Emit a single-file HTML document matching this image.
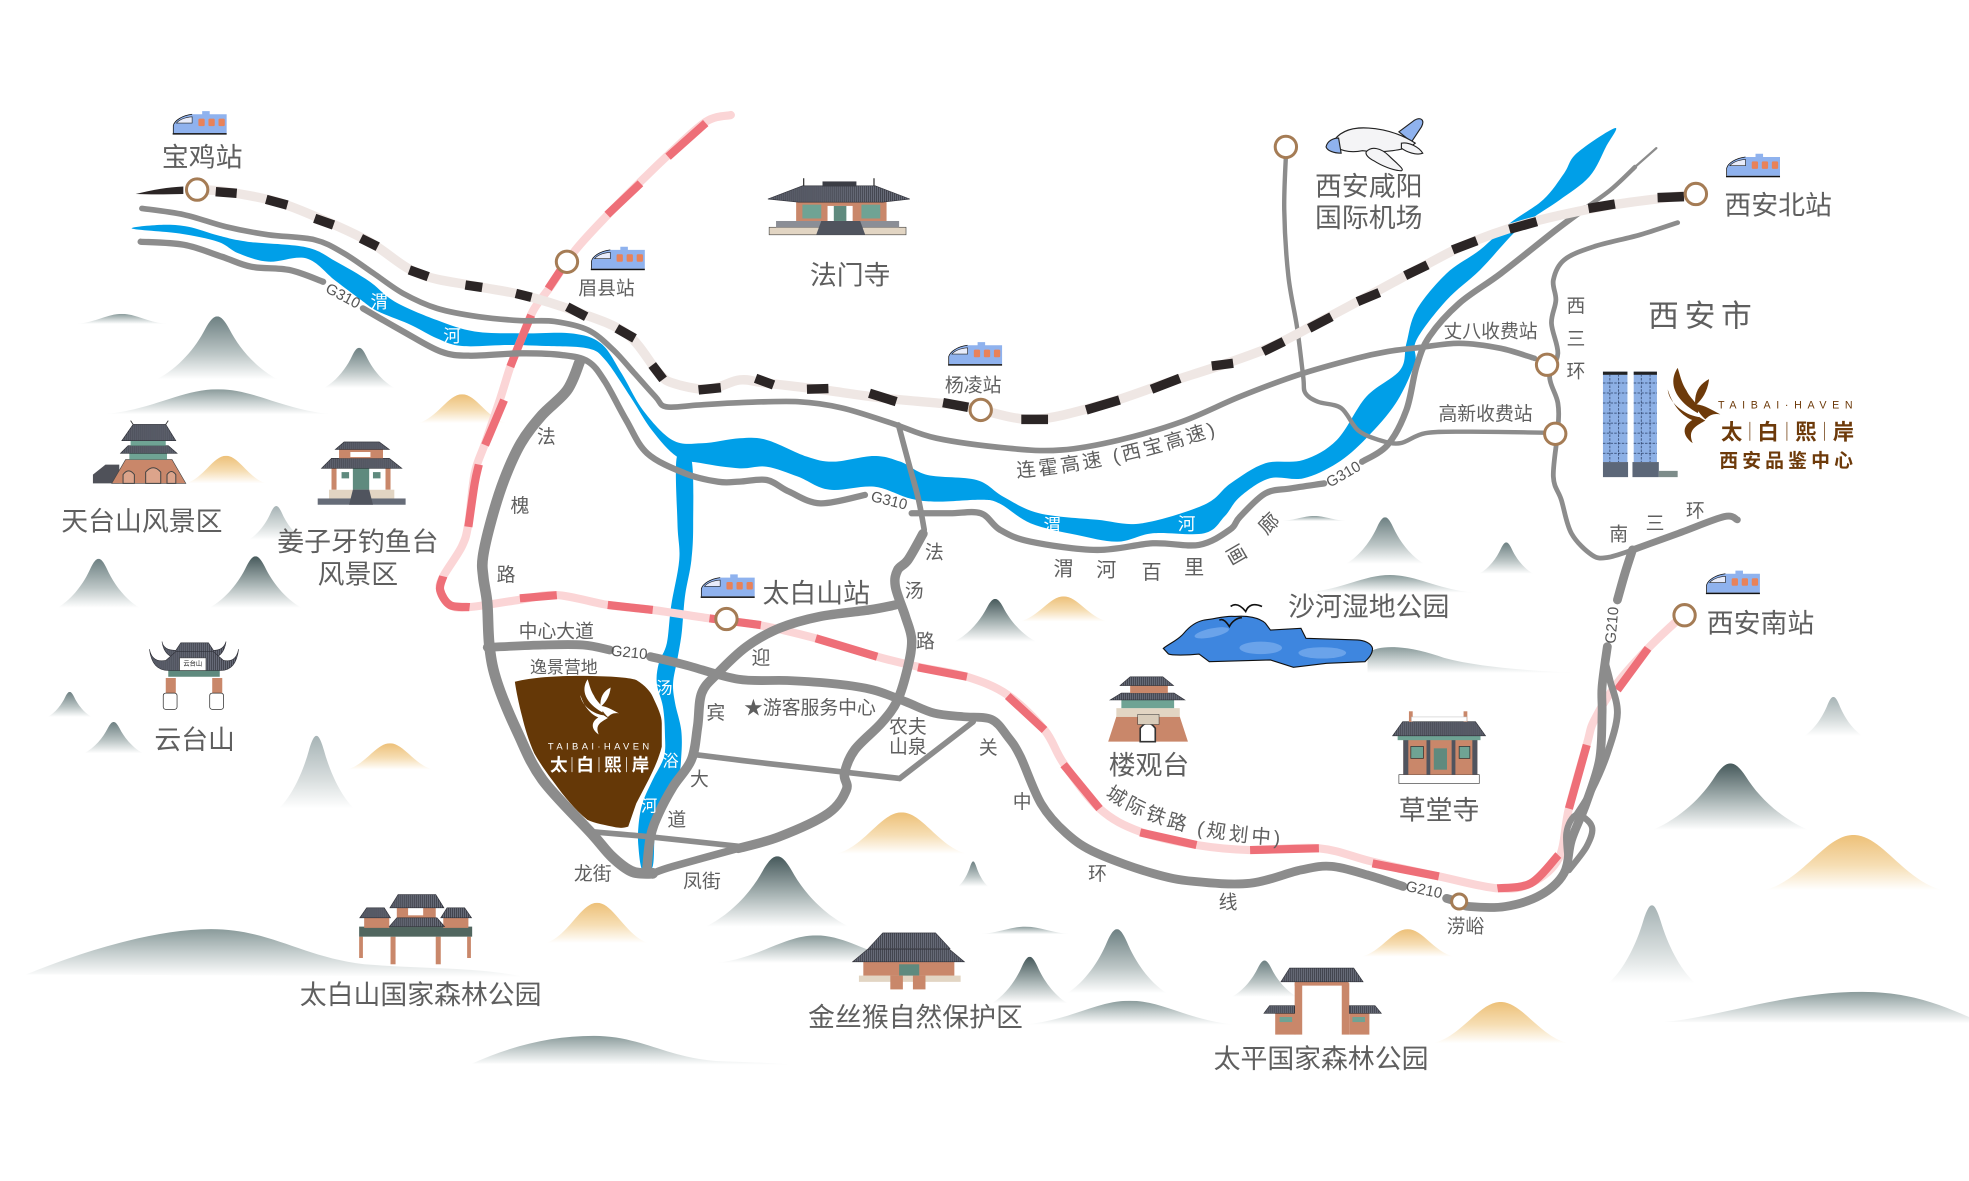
<!DOCTYPE html>
<html lang="zh">
<head>
<meta charset="utf-8">
<title>太白熙岸 区位图</title>
<style>
html,body{margin:0;padding:0;background:#fff}
svg{display:block}
text{font-family:"Liberation Sans","Noto Sans CJK SC",sans-serif;fill:#5f5f5f;text-anchor:middle;dominant-baseline:central}
.t21{font-size:21.4px}
.t15{font-size:15px}
.w{fill:#fff;font-size:14px}
.g{font-family:"Liberation Sans",sans-serif;font-size:12px;fill:#555}
.br{fill:#6d3a0a;font-weight:700}
.road{fill:none;stroke:#8c8c8c;stroke-linejoin:round;stroke-linecap:round}
.rf{fill:url(#hatch);stroke:#2f3038;stroke-width:.5}
.wl{fill:#c9876a}
.tl{fill:#6fa394}
.bg{fill:#e2d5c3}
.node{fill:#fff;stroke:#a57c55;stroke-width:2.4}
</style>
</head>
<body>
<svg xmlns="http://www.w3.org/2000/svg" width="1969" height="1181" viewBox="0 0 1568 940.6" preserveAspectRatio="none">
<defs>
<pattern id="hatch" width="1.6" height="3" patternUnits="userSpaceOnUse"><rect width="1.6" height="3" fill="#666a77"/><rect width=".5" height="3" fill="#33353d"/></pattern>
<linearGradient id="gD" x1="0" y1="0" x2="0" y2="1"><stop offset="0" stop-color="#46595b"/><stop offset=".55" stop-color="#a9b5b5"/><stop offset="1" stop-color="#fff"/></linearGradient>
<linearGradient id="gM" x1="0" y1="0" x2="0" y2="1"><stop offset="0" stop-color="#6d8082"/><stop offset=".6" stop-color="#bcc6c6"/><stop offset="1" stop-color="#fff"/></linearGradient>
<linearGradient id="gL" x1="0" y1="0" x2="0" y2="1"><stop offset="0" stop-color="#a6b3b5"/><stop offset=".6" stop-color="#d8dede"/><stop offset="1" stop-color="#fff"/></linearGradient>
<linearGradient id="gH" x1="0" y1="0" x2="0" y2="1"><stop offset="0" stop-color="#8a9b9b"/><stop offset=".55" stop-color="#ccd4d4"/><stop offset="1" stop-color="#fff"/></linearGradient>
<linearGradient id="gG" x1="0" y1="0" x2="0" y2="1"><stop offset="0" stop-color="#edc078"/><stop offset=".55" stop-color="#f6deb4"/><stop offset="1" stop-color="#fff"/></linearGradient>
<symbol id="pk" viewBox="0 0 100 100" preserveAspectRatio="none"><path d="M0 100C18 82 32 50 40 20C44 6 47 0 50 0C53 0 56 6 60 20C68 50 82 82 100 100Z"/></symbol>
<symbol id="hl" viewBox="0 0 100 100" preserveAspectRatio="none"><path d="M0 100C22 82 34 0 50 0C66 0 78 82 100 100Z"/></symbol>
<symbol id="tr" viewBox="0 0 44 21">
<path d="M1 19V13C2 9 8 5 16 4H24V1.500H30V4H43.500V19Z" fill="#8fb2ee"/>
<path d="M3.500 11C6 8 10 6.500 16 6V11Z" fill="#e8ecfb" stroke="#222" stroke-width=".5"/>
<rect x="21" y="7.500" width="5" height="6" rx="1" fill="#e8825a"/><rect x="29" y="7.500" width="5" height="6" rx="1" fill="#e8825a"/><rect x="37" y="7.500" width="5" height="6" rx="1" fill="#e8825a"/>
<rect x="0.500" y="19" width="43" height="1.200" fill="#111"/>
<path d="M1 19V13C2 9 8 5 16 4" fill="none" stroke="#111" stroke-width=".6"/>
</symbol>
<symbol id="bd" viewBox="0 0 42 60">
<path d="M8 0C0 12 6 26 24 36C27 30 18 25 15 18C11 12 10 6 8 0Z"/>
<path d="M33 9C25 13 21 20 22 30C28 25 32 18 33 9Z"/>
<path d="M0 17C1 28 13 37 24 39C30 41 28 45 26 43C15 42 5 33 0 17Z"/>
<path d="M23 29C30 30 34 33 42 37C36 36 33 38 30 41C26 37 23 34 23 29Z"/>
<path d="M25 39C13 43 9 52 20 60C16 50 21 47 30 42Z"/>
</symbol>
</defs>
<rect width="1568" height="940.6" fill="#fff"/>

<!-- mountains -->
<g>
<use href="#hl" x="61" y="250" width="72" height="8" fill="url(#gH)"/>
<use href="#pk" x="125" y="252" width="96" height="50" fill="url(#gM)"/>
<use href="#pk" x="258" y="277" width="56" height="32" fill="url(#gM)"/>
<use href="#hl" x="82" y="310" width="183" height="20" fill="url(#gH)"/>
<use href="#hl" x="333" y="314" width="70" height="23" fill="url(#gG)"/>
<use href="#hl" x="148" y="363" width="64" height="22" fill="url(#gG)"/>
<use href="#pk" x="46" y="445" width="65" height="39" fill="url(#gM)"/>
<use href="#pk" x="167" y="443" width="73" height="41" fill="url(#gD)"/>
<use href="#pk" x="198" y="403" width="44" height="27" fill="url(#gL)"/>
<use href="#pk" x="38" y="551" width="35" height="20" fill="url(#gM)"/>
<use href="#pk" x="67" y="575" width="47" height="25" fill="url(#gM)"/>
<use href="#pk" x="222" y="586" width="60" height="58" fill="url(#gL)"/>
<use href="#hl" x="276" y="592" width="69" height="21" fill="url(#gG)"/>
<use href="#hl" x="666" y="647" width="104" height="33" fill="url(#gG)"/>
<use href="#pk" x="562" y="682" width="114" height="56" fill="url(#gD)"/>
<use href="#pk" x="763" y="686" width="24" height="20" fill="url(#gM)"/>
<use href="#hl" x="435" y="719" width="81" height="32" fill="url(#gG)"/>
<path d="M21 776C60 760 120 740 168 740C215 740 240 762 290 768C340 772 380 770 417 778Z" fill="url(#gH)"/>
<use href="#hl" x="570" y="745" width="160" height="22" fill="url(#gH)"/>
<path d="M376 847C410 832 440 825 473 825C510 825 530 842 570 845C590 846 610 846 631 848Z" fill="url(#gH)"/>
<use href="#pk" x="850" y="740" width="79" height="51" fill="url(#gM)"/>
<use href="#pk" x="790" y="762" width="60" height="37" fill="url(#gD)"/>
<use href="#pk" x="981" y="765" width="52" height="29" fill="url(#gM)"/>
<use href="#hl" x="1084" y="740" width="74" height="22" fill="url(#gG)"/>
<use href="#hl" x="1141" y="798" width="108" height="33" fill="url(#gG)"/>
<use href="#hl" x="816" y="797" width="167" height="19" fill="url(#gH)"/>
<use href="#hl" x="780" y="738" width="73" height="6" fill="url(#gH)"/>
<use href="#pk" x="1281" y="721" width="69" height="62" fill="url(#gL)"/>
<path d="M1325 814C1370 810 1420 790 1483 790C1520 790 1545 800 1568 810V815Z" fill="url(#gH)"/>
<use href="#pk" x="1072" y="412" width="62" height="37" fill="url(#gM)"/>
<use href="#pk" x="1178" y="432" width="43" height="25" fill="url(#gM)"/>
<use href="#hl" x="1020" y="411" width="53" height="4" fill="url(#gH)"/>
<use href="#hl" x="1040" y="458" width="134" height="14" fill="url(#gH)"/>
<use href="#hl" x="812" y="475" width="70" height="20" fill="url(#gG)"/>
<use href="#pk" x="760" y="477" width="65" height="34" fill="url(#gD)"/>
<path d="M1089 520C1100 512 1125 515 1150 524C1180 532 1220 534 1255 536H1089Z" fill="url(#gH)"/>
<use href="#pk" x="1316" y="608" width="124" height="53" fill="url(#gD)"/>
<use href="#hl" x="1405" y="665" width="142" height="44" fill="url(#gG)"/>
<use href="#pk" x="1437" y="555" width="46" height="31" fill="url(#gL)"/>
</g>

<!-- rivers -->
<polygon class="sm" fill="#009fe8" points="105,182 130,179 150,180.600 173.500,187.500 197,192.500 244,197 267,208 294,224 314,240 348,255 378,264 415,265.500 455,265.500 478.500,273.500 495,297.400 512,326.600 535.500,350.500 559,353 589,349 610.600,350.400 642.600,363.700 664,367.700 696,363.200 717,367.700 738.600,378.300 777.700,382.300 799,395.600 827.500,408.800 873.700,414 909,416.800 959,402 980,385 1007.600,369 1037.800,366.400 1064.600,350.400 1088,316 1115,294.700 1120,273.400 1128,247 1152,217.700 1178.600,199 1202,178 1229,159 1245.600,138 1255.700,122 1286,102 1279,116.800 1265.700,140.700 1242,159.300 1222,172.600 1205.400,185.800 1178.600,215 1152,239 1128,270.800 1126.600,289.400 1111.500,321.200 1088,349 1064.600,369 1037.800,381 1011,381 987.500,395.600 975,411.500 959,424.700 918,424.700 890,431.400 857.300,426 820.800,416.800 796,401 781.300,398 745.700,399.500 724.400,396.900 696,387.600 660.400,390 635.500,379.600 610.600,371.700 589,373 559,369 539,363.700 519,342.500 502,316 482,286.700 468,277.500 435,275.600 405,274.800 368,275.600 348,269.500 327.700,259 301,248 287,238.500 267,223.500 244,205.800 213.700,208.400 190,201.800 173.500,192.500 143,186"/>
<polygon class="sm" fill="#009fe8" points="539,364 550.600,366 552,417 550.600,446 545.800,472.600 544,491 542.500,507 539.300,525.700 536,544 537.600,560 542.500,581.600 542.500,602.600 539.300,621 523,655.700 519.800,690 511.600,693 508.400,674.300 508.400,658.400 511.600,639.800 519.800,621 528.800,602.600 529.500,584 527.900,562.800 523,544 524.600,528.300 531,512.400 534.400,483 540.900,446 539.500,417"/>

<!-- intercity rail -->
<g fill="none" stroke-linejoin="round">
<polyline stroke="#fbd5d6" stroke-width="6.500" stroke-linecap="round" points="582,91.600 562,97 532,123.500 508.700,146 485,170 458.400,199 438.300,228.300 424.800,247 414.800,270.800 406.400,292 398,318.600 386.300,353 378,377 373,417 367.900,435 353,459 350.500,470 358.400,481.900 374,483.500 412.500,477.900 443.400,473.900 484,481.800 519.800,485.800 565,492.500 604.300,497.800 649.700,508.400 698.500,523 731,531 770,539 802.500,553.500 831.800,581.400 847,608 875.600,644 908,662.400 952.800,673 995.500,677 1050.300,675.600 1093,686.300 1145.800,698 1192.500,707.500 1219,703.500 1241.300,683.600 1249.400,643.800 1263.600,593 1269.700,573.400 1288,544 1312.400,516.400 1334.700,495"/>
<g stroke="#ee6f78" stroke-width="6.500">
<polyline points="562,98 532,124.800"/>
<polyline points="510,146 483.600,171"/>
<polyline points="446.600,215 436.600,230"/>
<polyline points="423,251 414.800,270.800 406.400,292"/>
<polyline points="401.400,318.600 386.300,354.500"/>
<polyline points="381.300,370 378,385 373,419.600"/>
<polyline points="353,459 350.500,470 358.400,481.900 374,483.500"/>
<polyline points="414,476.500 443.400,474"/>
<polyline points="484,481.800 519.800,485.800"/>
<polyline points="565,492.500 605.900,497.800"/>
<polyline points="649.700,508.400 698.500,523"/>
<polyline points="731,531.500 770,539"/>
<polyline points="802.500,554.300 831.800,581.400"/>
<polyline points="847,609 875.600,644"/>
<polyline points="908,663 952.800,673"/>
<polyline points="995.500,677 1050.300,675.600"/>
<polyline points="1093,687.600 1145.800,698"/>
<polyline points="1192.500,707.500 1219,703.500 1241,681"/>
<polyline points="1249.400,644 1263.600,593.300"/>
<polyline points="1288,549.500 1312.400,516.400"/>
</g>
</g>

<!-- roads -->
<g>
<polyline class="road" stroke-width="4.500" points="113,166 146.600,171 180,180.600 213.700,187 250.600,191 274,201.800 297.500,217.700 321,233.700 348,245.600 381,252.200 415,255.400 441.600,256 468.400,262.900 488.500,278.800 505.300,297.400 522,316 530.500,324 555.600,322.600 589,320.700 635.500,319.900 671,325 710,337 745.700,349 802.600,357 845,358.400 891.500,350.400 941.200,335.800 987.400,315.900 1033.700,298.600 1080,285.400 1105,280 1131.600,276.600 1162,273.400 1195,277.400 1222,285.400"/>
<polyline class="road" stroke-width="5" points="112,192.500 146.600,195 176.800,204.500 200,212.400 230.400,215 257.300,224.400"/>
<polyline class="road" stroke-width="5" points="289,245.600 321,264 351,280 374.600,283.300 415,281.400 448,282.800 468.400,288 481.800,304 498.600,334.500 515.400,361 545.500,377 572,383.700 589,383.600 610.600,382.300 628.400,391.600 653.300,400.900 688.800,394.200"/>
<polyline class="road" stroke-width="5" points="726,408.800 756.400,408.800 781,408.800 796.400,422 820.800,431.400 873.600,438 918,432.700 954.800,434 979.200,422 987.500,411.500 1007.600,393 1027.700,389 1054.500,385"/>
<polyline class="road" stroke-width="5" points="1084.700,367.700 1105,354.400 1120,326.500 1128,292 1138.300,268 1162,241.600 1195.300,217.700 1239,183.200 1262,166"/>
<polyline class="road" stroke-width="3.500" points="1262,166 1282.500,151.300 1302,133"/>
<polyline class="road" stroke-width="1.800" points="1302,133 1319,118"/>
<polyline class="road" stroke-width="8.500" points="461.700,288 451.700,310.700 431.600,330.600 414.800,353 401.400,382.300 391.300,414 384.600,443.400 384.900,460 388,480.500 389.800,515 396,544 412.500,584 432,621 471,663.700 487.300,682.300 503.500,694.200 519.800,695.600"/>
<polyline class="road" stroke-width="6" points="519.800,695.600 536,690 588,675.700"/>
<polyline class="road" stroke-width="7.500" points="588,675.700 620.500,666.400 659.500,647.800 674,629 672.500,616 680.600,597.300 701.800,576 714.800,557.500 723,531 726,509.700 721,491 713,467 714.800,454 723,446 735,425"/>
<polyline class="road" stroke-width="4.500" points="715.500,338.500 724.400,371.700 731.500,398 736,422"/>
<polyline class="road" stroke-width="7.500" points="713,481.800 692,485.800 653,491 620.500,500.400 594.500,515 571.700,536 558.800,552 555.500,578.800 550.600,605 536,626.500 524.600,647.800 518,666.400 515,693"/>
<polyline class="road" stroke-width="7" points="388,515.600 432,513.700 464.500,513.700 485.600,517.700"/>
<polyline class="road" stroke-width="7" points="518,523 545.800,529.600 588,541 627,542 666,544.800 695.300,549.500 721,558.800 744,568 767,570.800 789.500,573 802.500,586.700 812.600,602.600 829,640 849.200,663.700 873.600,679.600 918,695.600 950.800,702 995.500,703.500 1036,692.900 1060.500,690 1089,696.900 1117.400,706"/>
<polyline class="road" stroke-width="7" points="1152,715.500 1162,718.700 1170,722 1198.600,722 1227,712.800 1245.400,695.600 1251.400,669 1263,640 1273.800,605 1275.800,568 1275.800,546.900 1280,515"/>
<polyline class="road" stroke-width="5" points="1249.400,693 1263.600,674 1267.700,658.400 1255.500,649 1247.400,663.700 1249.400,693"/>
<polyline class="road" stroke-width="5.500" points="1255.500,649 1267.700,629 1280,600 1288,568 1282,541.600 1277.800,525.600"/>
<polyline class="road" stroke-width="7" points="1288,477.800 1294,456.600 1300,438"/>
<polyline class="road" stroke-width="4.500" points="555.500,601.300 610.700,608 669.300,614.600 716.400,620"/>
<polyline class="road" stroke-width="4.500" points="716.400,620 775,574.800"/>
<polyline class="road" stroke-width="4.500" points="471,662.400 516.500,666.400 591,674.300"/>
<polyline class="road" stroke-width="3.800" points="1336,177.300 1306,187 1269,196.500 1245.600,207 1237,223 1239,239 1235.500,257.500 1240.600,281.400 1234,300 1240.600,321 1240.600,342.500 1237,379.600 1243.300,398 1251.400,424.800 1267.700,442 1280,444 1300,438"/>
<polyline class="road" stroke-width="5.500" points="1300,438 1336.800,424.700 1373,411.500 1383.500,414"/>
<polyline class="road" stroke-width="3.500" points="1024.400,116.800 1022.700,167 1026,220 1032.800,260 1037.800,300 1039.500,313 1049.500,320 1068,325 1081.300,342.500 1098,350.400 1115,353 1135,345 1168.500,343.800 1229,344.600"/>
</g>

<!-- west-east rail -->
<polyline fill="none" stroke="#efe7e4" stroke-width="7.500" stroke-linejoin="round" points="157,151 180,152.700 220,160.600 257,175 294,192.500 332.700,217.700 378,227.800 416.500,235 458.400,248 498.600,265.500 523.700,296 535.500,305 564,310 589,302.600 609,305 651.500,310 703,317 762,322.500 781,326.500 824,334 877,322.500 929,305 973,290.700 1014,275.500 1051.500,256 1089,236 1128,215 1167,195 1212,179 1276,164.600 1331,157 1350,154.500"/>
<path d="M108 154.500C122 151 134 149 146 148.500V154.500C134 154.800 120 155 108 154.500Z" fill="#2b2525"/>
<path fill="none" stroke="#2b2525" stroke-width="7.500" d="M171.800 152.700L188.500 154M212 158.800L228.800 163.300M250.600 173.900L265.600 179.200M287.400 189.800L300.800 196.500M326 215L341 220.400M370.600 227L384 228.900M410.800 233.700L423.200 236.800M451.700 244.300L466.800 252.200M491.200 261.500L505.300 269.500M519.400 290.700L528.100 302.100M556.300 310.600L574 308.800M601.700 301.300L616 306.600M642.600 310L659.700 309.500M692.400 313.200L713.700 319.900M751 320.700L771 324.400M813.300 334L834.600 334M865 326.500L891.500 318.600M917 310L939.500 301.300M965 291.500L982 289.300M1006 280L1022.300 272M1042.600 261.500L1060.300 252.200M1081 240.200L1098.400 233M1119 219.500L1136.800 211M1156.800 199L1176 191.700M1202 182.600L1223.800 176.500M1265 166L1286 162.500M1320 157.400L1341 156.600"/>

<!-- parcel -->
<path d="M410 543C425 539 450 538 471 538.400C490 538.700 503 540 506.700 541.600C514 546 518 551 519.800 554.900C524 564 527 570 527 576L527 594.700C524 606 520 614 516.500 621L506.700 639.800L500.300 658.400C497 659.500 494 659.500 490.500 659C482 657 474 656 467.800 653C458 645 449 634 441.800 624C435 615 430 608 425.500 600C421 590 418 580 415.800 570.800C413 560 411 550 410 543Z" fill="#653807"/>
<use href="#bd" x="462" y="541" width="31" height="44" fill="#fff"/>
<g transform="translate(0,1.300)">
<text x="478" y="593" style="fill:#fff;font-size:7.500px;letter-spacing:2.700px">TAIBAI·HAVEN</text>
<text x="445" y="608" style="fill:#fff;font-weight:700;font-size:14px">太</text>
<text x="466" y="608" style="fill:#fff;font-weight:700;font-size:14px">白</text>
<text x="488" y="608" style="fill:#fff;font-weight:700;font-size:14px">熙</text>
<text x="510" y="608" style="fill:#fff;font-weight:700;font-size:14px">岸</text>
</g>
<path d="M455.500 603V615M477 603V615M499 603V615" stroke="#fff" stroke-width=".6"/>

<!-- nodes -->
<ellipse class="node" cx="157" cy="151" rx="8.500" ry="8.500"/>
<ellipse class="node" cx="451.500" cy="208.500" rx="8.500" ry="8.500"/>
<ellipse class="node" cx="781" cy="326.500" rx="8.500" ry="8.500"/>
<ellipse class="node" cx="1024" cy="117" rx="8.500" ry="8.500"/>
<ellipse class="node" cx="1350.500" cy="154.500" rx="8.500" ry="8.500"/>
<ellipse class="node" cx="1232" cy="290.500" rx="8.500" ry="8.500"/>
<ellipse class="node" cx="1238.500" cy="345.500" rx="8.500" ry="8.500"/>
<ellipse class="node" cx="1341.500" cy="490" rx="8.500" ry="8.500"/>
<ellipse class="node" cx="578.500" cy="493" rx="8.500" ry="8.500"/>
<ellipse class="node" cx="1162" cy="718" rx="6" ry="6" stroke-width="2"/>

<!-- trains -->
<use href="#tr" x="137" y="87" width="44" height="21"/>
<use href="#tr" x="470" y="195" width="44" height="21"/>
<use href="#tr" x="754.500" y="271" width="44" height="21"/>
<use href="#tr" x="557.500" y="456" width="44" height="21"/>
<use href="#tr" x="1374" y="121" width="44" height="21"/>
<use href="#tr" x="1358" y="453" width="44" height="21"/>

<!-- plane -->
<g stroke="#222" stroke-width=".9">
<path d="M1114 105L1126 96C1131 93 1135 95 1132 101L1124 113Z" fill="#8fb2ee"/>
<path d="M1061 114C1066 105 1076 101 1090 102C1105 103 1118 108 1127 114C1120 120 1100 122 1085 120C1075 122 1065 120 1061 114Z" fill="#f4f4f6"/>
<path d="M1056 117C1057 112 1062 110 1066 110L1068 122C1062 122 1057 120 1056 117Z" fill="#8fb2ee"/>
<path d="M1088 121C1092 116 1100 118 1106 124C1112 130 1119 135 1116 136C1110 136 1100 132 1094 128C1090 126 1087 123 1088 121Z" fill="#f4f4f6"/>
<path d="M1116 114C1122 113 1130 117 1133 122C1128 124 1120 121 1116 118Z" fill="#f4f4f6"/>
</g>

<!-- lake -->
<path d="M926.400 516.400C932 512 938 510 942.700 504.400C948 498 953 495 959 493.800C968 493 976 490 983.300 491C993 490 1003 492 1007.700 496.400L1011.700 501.800L1036 500.400L1040 508.400L1080.800 509.700C1086 510 1092 512 1093 516.400C1093 521 1090 524 1087 527L1056.400 528.300L1030 531.500L1011.700 525.600L963 527L954.900 520.900C945 522 933 522 930.500 520.900Z" fill="#3e86df" stroke="#111" stroke-width=".9"/>
<g fill="#6aa3ea"><ellipse cx="965" cy="504" rx="14" ry="3.500" transform="rotate(-12 965 504)"/><ellipse cx="1004" cy="516" rx="17" ry="5"/><ellipse cx="1053" cy="520" rx="19" ry="4.500"/></g>
<g fill="none" stroke="#111" stroke-width="1.300"><path d="M980 483C984 480 988 482 992 487C994 482 998 480 1005 483"/><path d="M971 494C974 492 977 496 979 499C981 495 985 492 989 492"/></g>

<!-- towers -->
<g>
<rect x="1276.500" y="296" width="19.500" height="72" fill="#8db0e5"/>
<rect x="1301" y="296" width="18.500" height="72" fill="#8db0e5"/>
<rect x="1276.500" y="296" width="19.500" height="2.500" fill="#222"/>
<rect x="1301" y="296" width="18.500" height="2.500" fill="#222"/>
<path d="M1276.500 305H1296M1276.500 313H1296M1276.500 321H1296M1276.500 329H1296M1276.500 337H1296M1276.500 345H1296M1276.500 353H1296M1276.500 361H1296M1301 305H1319.500M1301 313H1319.500M1301 321H1319.500M1301 329H1319.500M1301 337H1319.500M1301 345H1319.500M1301 353H1319.500M1301 361H1319.500M1282 298V368M1289 298V368M1307 298V368M1314 298V368" stroke="#2c3f66" stroke-width=".6" stroke-dasharray="2 1"/>
<rect x="1276.500" y="368" width="20" height="12" fill="#5c6778"/>
<rect x="1300" y="368" width="21" height="12" fill="#5c6778"/>
<path d="M1321 375H1336V380H1321Z" fill="#7d8c8a"/>
</g>
<use href="#bd" x="1328" y="293" width="42" height="60" fill="#6d3a0a"/>
<g transform="translate(0,.8)">
<text x="1424" y="322" style="fill:#6d3a0a;font-size:8.500px;letter-spacing:4.500px">TAIBAI·HAVEN</text>
<text class="br" x="1379" y="343.500" style="font-size:17px">太</text>
<text class="br" x="1408" y="343.500" style="font-size:17px">白</text>
<text class="br" x="1438" y="343.500" style="font-size:17px">熙</text>
<text class="br" x="1468" y="343.500" style="font-size:17px">岸</text>
<text class="br" x="1424" y="366" style="font-size:15px;letter-spacing:3.300px">西安品鉴中心</text>
</g>
<path d="M1393.500 336V351M1423 336V351M1453 336V351" stroke="#6d3a0a" stroke-width=".6"/>

<!-- 法门寺 -->
<g>
<rect x="612.500" y="181" width="109" height="6" class="bg" stroke="#444" stroke-width=".5"/>
<rect x="618" y="176" width="98" height="5" fill="#8b8e96"/>
<polygon points="650,187 654,176 685,176 689,187" fill="#50545e"/>
<rect x="634" y="160" width="72" height="16" class="wl"/>
<rect x="639" y="163" width="15" height="11" class="tl"/><rect x="686" y="163" width="15" height="11" class="tl"/><rect x="659" y="164" width="20" height="12" fill="#fff"/><rect x="664" y="164" width="10" height="12" fill="#5f8a7e"/>
<polygon class="rf" points="611.500,158.500 639,148 697,148 724.500,158.500 703,161 636,161"/>
<rect x="655" y="144.500" width="27" height="4" fill="#3b3d45"/>
<path d="M640 142V148M696 142V148" stroke="#333" stroke-width="1"/>
</g>

<!-- 天台山 -->
<g>
<polygon points="74,385 74,378 84,370 95,370 95,385" fill="#4f5159"/>
<polygon class="wl" points="89,385 100,366 137,366 148,385" stroke="#444" stroke-width=".5"/>
<path d="M98 385V378Q102.500 372 107 378V385ZM116 385V376Q122 369 128 376V385ZM133 385V378Q136.500 373 140 378V385Z" fill="#dca48b" stroke="#444" stroke-width=".8"/>
<rect x="103" y="361" width="30" height="5" class="tl"/>
<polygon class="rf" points="96,361 102,355 134,355 141,361"/>
<rect x="104" y="349" width="28" height="6" class="tl"/>
<polygon class="rf" points="97,351 106,338 132,338 140,351"/>
<path d="M106 338L104 335M132 338L134 335" stroke="#333" stroke-width=".7"/>
</g>

<!-- 姜子牙 -->
<g>
<rect x="262" y="390" width="52" height="7" class="bg"/>
<rect x="253" y="397" width="70" height="5" fill="#666c78"/>
<rect x="264" y="373" width="47" height="17" fill="#fff"/>
<rect x="264" y="373" width="4" height="17" class="wl"/><rect x="307" y="373" width="4" height="17" class="wl"/>
<rect x="281" y="373" width="13" height="17" fill="#5f8a7e"/>
<rect x="272" y="376" width="6" height="5" fill="#5f8a7e"/><rect x="297" y="376" width="6" height="5" fill="#5f8a7e"/>
<polygon points="278,402 281,390 294,390 297,402" fill="#50545e"/>
<polygon class="rf" points="256,373 264,365 310,365 320,373"/>
<rect x="270" y="358" width="35" height="7" class="wl"/><rect x="279" y="360" width="16" height="4" fill="#fff"/>
<polygon class="rf" points="267,358 274,352 302,352 310,358"/>
</g>

<!-- 云台山 -->
<g>
<rect x="132" y="540" width="8" height="14" class="wl"/><rect x="169" y="540" width="8" height="14" class="wl"/>
<rect x="130" y="552" width="11" height="13" rx="2" fill="#fff" stroke="#333" stroke-width=".6"/><rect x="167" y="552" width="11" height="13" rx="2" fill="#fff" stroke="#333" stroke-width=".6"/>
<rect x="134" y="534" width="41" height="5" fill="#5f8a7e"/>
<path class="rf" d="M129 511Q130 518 140 518L144 512L166 512L170 518Q178 518 180 511Q178 524 168 524L142 524Q131 524 129 511Z"/>
<path class="rf" d="M119 517Q121 528 132 526L140 519L170 519L178 526Q188 528 190 517Q188 534 176 534L134 534Q121 534 119 517Z"/>
<rect x="143" y="524" width="21" height="10" fill="#fff" stroke="#333" stroke-width=".4"/>
<text x="153.500" y="529" style="font-size:5px;fill:#222">云台山</text>
</g>

<!-- 太白山国家森林公园 -->
<g>
<rect x="286" y="746" width="3" height="17" class="wl"/><rect x="372" y="746" width="3" height="17" class="wl"/>
<rect x="311" y="746" width="4" height="22" class="wl"/><rect x="347" y="746" width="4" height="22" class="wl"/>
<rect x="286" y="738" width="90" height="8" fill="#51665f"/>
<rect x="290" y="731" width="20" height="8" class="wl"/><rect x="353" y="731" width="20" height="8" class="wl"/>
<polygon class="rf" points="286.500,731 292,723 306,723 311,731"/>
<polygon class="rf" points="351,731 356,723 370,723 375.500,731"/>
<rect x="316" y="722" width="31" height="10" class="wl"/><rect x="325" y="723" width="12" height="6" fill="#fff"/>
<polygon class="rf" points="310,738 316,731 348,731 354,738"/>
<polygon class="rf" points="310.500,723 317,712.500 347,712.500 353.500,723"/>
</g>

<!-- 金丝猴 -->
<g>
<rect x="684" y="777" width="81" height="5" class="bg"/>
<rect x="687.500" y="766" width="72.500" height="11" class="wl"/>
<rect x="716" y="768" width="16" height="9" fill="#5f8a7e"/>
<rect x="709" y="777" width="10" height="11" class="wl"/><rect x="727" y="777" width="10" height="11" class="wl"/>
<polygon class="rf" points="679,766 691,756 756,756 768,766"/>
<polygon class="rf" points="691.500,755.500 703,743 745,743 756.500,755.500"/>
</g>

<!-- 太平 -->
<g>
<rect x="1015.500" y="807" width="16" height="17" class="wl"/><rect x="1074.500" y="807" width="16" height="17" class="wl"/>
<rect x="1019" y="810" width="10" height="4" class="tl"/><rect x="1077" y="810" width="10" height="4" class="tl"/>
<rect x="1031" y="783" width="6" height="41" class="wl"/><rect x="1068.500" y="783" width="6" height="41" class="wl"/>
<rect x="1031" y="782" width="43" height="3" class="wl"/>
<polygon class="rf" points="1006.500,807 1011,801 1031,801 1031,807"/>
<polygon class="rf" points="1074.500,807 1074.500,801 1095,801 1100,807"/>
<polygon class="rf" points="1020,782 1027,771 1078,771 1085.500,782"/>
</g>

<!-- 楼观台 -->
<g>
<polygon class="wl" points="882.500,590.700 889,570.800 939.500,570.800 946,590.700"/>
<path d="M908 590.700V580Q914 572 920 580V590.700Z" fill="#fff" stroke="#333" stroke-width="1.300"/>
<rect x="889" y="564" width="50.500" height="7" class="bg"/>
<rect x="906" y="569" width="17" height="8" fill="#d9cdbb" stroke="#333" stroke-width=".4"/>
<rect x="893" y="557" width="42" height="7" class="tl"/>
<polygon class="rf" points="884,557.500 893,552 935,552 943.500,557.500"/>
<rect x="900" y="546" width="30" height="6" class="wl"/>
<polygon class="rf" points="892,546 900,539 926,539 934.500,546"/>
</g>

<!-- 草堂寺 -->
<g>
<rect x="1114" y="617" width="64" height="7" fill="#fff" stroke="#333" stroke-width=".5"/>
<rect x="1117.500" y="589" width="59" height="28" class="wl"/>
<rect x="1117.500" y="589" width="4" height="28" fill="#50545e"/><rect x="1172.500" y="589" width="4" height="28" fill="#50545e"/><rect x="1136" y="589" width="3" height="28" fill="#50545e"/><rect x="1156" y="589" width="3" height="28" fill="#50545e"/>
<rect x="1141.800" y="596" width="10.500" height="17" fill="#5f8a7e"/>
<rect x="1123.500" y="594.500" width="10" height="9.500" class="tl" stroke="#333" stroke-width=".6"/><rect x="1162" y="594.500" width="8.500" height="9.500" class="tl" stroke="#333" stroke-width=".6"/>
<rect x="1113" y="586" width="66" height="3.500" class="tl"/>
<polygon class="rf" points="1109,586 1117,574.800 1175,574.800 1183,586"/>
<rect x="1122" y="566.500" width="3" height="8.500" class="wl"/><rect x="1165.500" y="566.500" width="3" height="8.500" class="wl"/>
<rect x="1124" y="571" width="44" height="3.500" fill="#fff" stroke="#bbb" stroke-width=".4"/>
</g>

<!-- labels -->
<g transform="translate(0,1.500)">
<text class="t21" x="161" y="124">宝鸡站</text>
<text class="t21" x="677" y="218">法门寺</text>
<text class="t21" x="1090" y="147">西安咸阳</text>
<text class="t21" x="1090" y="172">国际机场</text>
<text class="t21" x="1416" y="162">西安北站</text>
<text x="1356" y="250" style="font-size:24.5px;letter-spacing:4.500px">西安市</text>
<text class="t21" x="650" y="471">太白山站</text>
<text class="t21" x="1090" y="482">沙河湿地公园</text>
<text class="t21" x="113" y="414">天台山风景区</text>
<text class="t21" x="285" y="430">姜子牙钓鱼台</text>
<text class="t21" x="285" y="456">风景区</text>
<text class="t21" x="155" y="588">云台山</text>
<text class="t21" x="915" y="608">楼观台</text>
<text class="t21" x="1146" y="644">草堂寺</text>
<text class="t21" x="335" y="791">太白山国家森林公园</text>
<text class="t21" x="729" y="809">金丝猴自然保护区</text>
<text class="t21" x="1052" y="842">太平国家森林公园</text>
<text class="t21" x="1402" y="495">西安南站</text>
<text class="t15" x="483" y="228">眉县站</text>
<text class="t15" x="775" y="305">杨凌站</text>
<text class="t15" x="1187" y="262">丈八收费站</text>
<text class="t15" x="1183" y="328">高新收费站</text>
<text class="t15" x="1255" y="242">西</text><text class="t15" x="1255" y="268">三</text><text class="t15" x="1255" y="294">环</text>
<text class="t15" x="435" y="346">法</text><text class="t15" x="414" y="401">槐</text><text class="t15" x="403" y="456">路</text>
<text class="t15" x="744" y="438">法</text><text class="t15" x="728" y="469">汤</text><text class="t15" x="737" y="509">路</text>
<text class="t15" x="443" y="501">中心大道</text>
<text class="t15" x="449" y="530" style="font-size:13.500px">逸景营地</text>
<text class="t15" x="606" y="522">迎</text><text class="t15" x="570" y="566">宾</text><text class="t15" x="557" y="619">大</text><text class="t15" x="539" y="651">道</text>
<text class="t15" x="472" y="694">龙街</text><text class="t15" x="559" y="700">凤街</text>
<text class="t15" x="645" y="562">★游客服务中心</text>
<text class="t15" x="723" y="577">农夫</text><text class="t15" x="723" y="593">山泉</text>
<text class="t15" x="787" y="594">关</text><text class="t15" x="814" y="637">中</text><text class="t15" x="874" y="694">环</text><text class="t15" x="978" y="717">线</text>
<text class="t15" x="1167" y="736">涝峪</text>
<text class="t15" x="1289" y="424">南</text><text class="t15" x="1318" y="415">三</text><text class="t15" x="1350" y="405">环</text>
<text class="t15" x="847" y="452" style="font-size:16px">渭</text><text class="t15" x="881" y="453" style="font-size:16px">河</text><text class="t15" x="917" y="455" style="font-size:16px">百</text><text class="t15" x="951" y="451" style="font-size:16px">里</text>
<text class="t15" x="985" y="441" transform="rotate(-30 985 441)" style="font-size:16px">画</text>
<text class="t15" x="1011" y="416" transform="rotate(-45 1011 416)" style="font-size:16px">廊</text>
<text class="w" x="302" y="239">渭</text><text class="w" x="360" y="266">河</text><text class="w" x="838" y="417">渭</text><text class="w" x="945" y="416">河</text>
<text class="w" x="529" y="547" style="font-size:13px">汤</text><text class="w" x="534" y="605" style="font-size:13px">浴</text><text class="w" x="517" y="641" style="font-size:13px">河</text>
</g>
<text class="g" x="273" y="236" transform="rotate(28 273 236)">G310</text>
<text class="g" x="708" y="399" transform="rotate(14 708 399)">G310</text>
<text class="g" x="1070" y="378" transform="rotate(-30 1070 378)">G310</text>
<text class="g" x="501" y="520" transform="rotate(6 501 520)">G210</text>
<text class="g" x="1134" y="709" transform="rotate(12 1134 709)">G210</text>
<text class="g" x="1284" y="498" transform="rotate(-85 1284 498)">G210</text>
<path id="p1" d="M810 380Q885 375 978 343" fill="none"/>
<path id="p2" d="M880 634Q930 670 1030 673" fill="none"/>
<text style="font-size:15.500px;letter-spacing:2.400px;text-anchor:start;dominant-baseline:auto"><textPath href="#p1">连霍高速 (西宝高速)</textPath></text>
<text style="font-size:15.500px;letter-spacing:2.600px;text-anchor:start;dominant-baseline:auto"><textPath href="#p2">城际铁路 (规划中)</textPath></text>
</svg>
<script>
document.querySelectorAll('polyline,polygon.sm').forEach(function(e){
var p=e.getAttribute('points').trim().split(/\s+/).map(function(s){return s.split(',').map(Number)});
if(p.length<3)return;
var c=e.tagName==='polygon',n=p.length,d='M'+p[0][0]+' '+p[0][1];
function g(i){return c?p[(i+n)%n]:p[Math.max(0,Math.min(n-1,i))]}
for(var i=0;i<(c?n:n-1);i++){var a=g(i-1),b=g(i),f=g(i+1),h=g(i+2);
d+='C'+(b[0]+(f[0]-a[0])/6).toFixed(1)+' '+(b[1]+(f[1]-a[1])/6).toFixed(1)+' '+(f[0]-(h[0]-b[0])/6).toFixed(1)+' '+(f[1]-(h[1]-b[1])/6).toFixed(1)+' '+f[0]+' '+f[1];}
if(c)d+='Z';
var q=document.createElementNS('http://www.w3.org/2000/svg','path');
for(var j=0;j<e.attributes.length;j++){var t=e.attributes[j];if(t.name!=='points')q.setAttribute(t.name,t.value);}
q.setAttribute('d',d);e.parentNode.replaceChild(q,e);
});
</script>
</body>
</html>
